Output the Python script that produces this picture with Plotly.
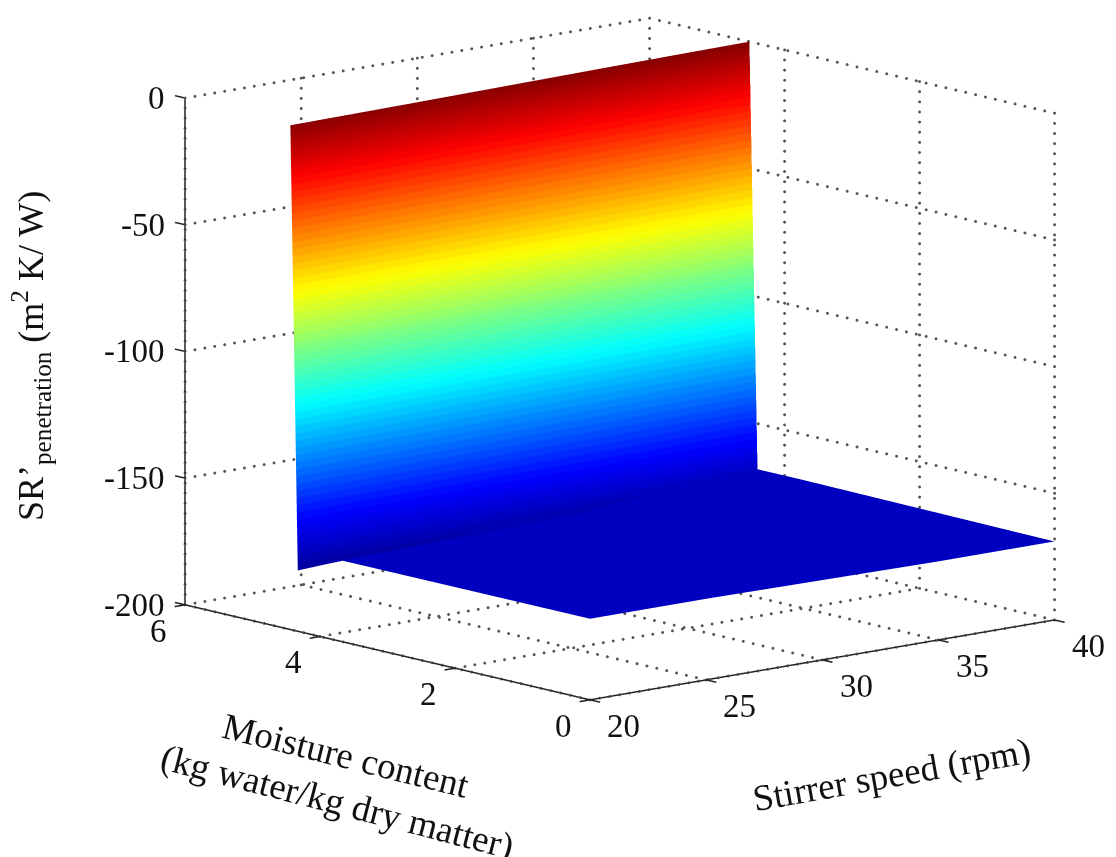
import plotly.graph_objects as go

stirrer_speed = [20, 25, 30, 35, 40]
moisture_rows = [
    [0, 0, 0, 0, 0],
    [3.7, 3.7, 3.7, 3.7, 3.75],
    [4.33, 4.35, 4.37, 4.38, 4.40],
    [4.44, 4.46, 4.48, 4.50, 4.52],
]
sr_rows = [
    [-168, -168, -168.5, -169, -169],
    [-168, -168, -168, -168, -168],
    [-176, -174, -172, -170, -168],
    [-1, -0.8, -0.5, -0.2, 0],
]
x_ticks = [20, 25, 30, 35, 40]
y_ticks = [0, 2, 4, 6]
z_ticks = [-200, -150, -100, -50, 0]
jet_stops = [(0, (0, 0, 143)), (0.125, (0, 0, 255)), (0.375, (0, 255, 255)),
             (0.625, (255, 255, 0)), (0.875, (255, 0, 0)), (1, (128, 0, 0))]

X0, X1, Y0, Y1, Z0, Z1 = 20, 40, 0, 6, -200, 0
DOT = "#555555"
INK = "#222222"
SERIF = "Liberation Serif"


def jet_colour(t):
    for (t0, c0), (t1, c1) in zip(jet_stops, jet_stops[1:]):
        if t <= t1:
            f = (t - t0) / (t1 - t0)
            return "rgb(%d,%d,%d)" % tuple(round(a + (b - a) * f) for a, b in zip(c0, c1))
    return "rgb(128,0,0)"


# stepped 64-level colormap, as the source's banding shows
LEVELS = 64
jet = []
for i in range(LEVELS):
    col = jet_colour((i + 0.5) / LEVELS)
    jet.append([i / LEVELS, col])
    jet.append([(i + 1) / LEVELS, col])

fig = go.Figure()


def seg(xs, ys, zs, color=INK, width=3):
    fig.add_trace(go.Scatter3d(x=xs, y=ys, z=zs, mode="lines", hoverinfo="skip",
                               showlegend=False,
                               line=dict(color=color, width=width)))


def dotted(a, b, n):
    """Dots along a grid line from corner a to corner b, about 10 px apart."""
    pts = [[a[k] + (b[k] - a[k]) * i / n for i in range(n + 1)] for k in range(3)]
    fig.add_trace(go.Scatter3d(x=pts[0], y=pts[1], z=pts[2], mode="markers",
                               hoverinfo="skip", showlegend=False,
                               marker=dict(size=1.7, color=DOT, line=dict(width=0))))


# dotted grid on floor and two back walls
for t in x_ticks:
    dotted((t, Y0, Z0), (t, Y1, Z0), 41)
    dotted((t, Y1, Z0), (t, Y1, Z1), 50)
for t in y_ticks:
    dotted((X0, t, Z0), (X1, t, Z0), 47)
    dotted((X1, t, Z0), (X1, t, Z1), 50)
for t in z_ticks:
    dotted((X0, Y1, t), (X1, Y1, t), 47)
    dotted((X1, Y0, t), (X1, Y1, t), 41)

# solid axes
seg([X0, X1], [Y0, Y0], [Z0, Z0])
seg([X0, X0], [Y0, Y1], [Z0, Z0])
seg([X0, X0], [Y1, Y1], [Z0, Z1])
for t in x_ticks:
    seg([t, t], [Y0, Y0 - 0.15], [Z0, Z0])
for t in y_ticks:
    seg([X0, X0 - 0.45], [t, t], [Z0, Z0])
for t in z_ticks:
    seg([X0, X0], [Y1, Y1 + 0.15], [t, t])

fig.add_trace(go.Surface(
    x=[stirrer_speed for _ in moisture_rows], y=moisture_rows, z=sr_rows,
    colorscale=jet, cmin=-178.5, cmax=1.5, showscale=False, hoverinfo="skip",
    lighting=dict(ambient=1, diffuse=0, specular=0, roughness=1, fresnel=0),
    contours=dict(x=dict(highlight=False), y=dict(highlight=False), z=dict(highlight=False)),
))

tick_font = dict(family=SERIF, size=33, color="#111111")
scene_notes = []
for t in x_ticks:
    scene_notes.append(dict(x=t, y=Y0, z=Z0, text=str(t), showarrow=False, font=tick_font,
                            xshift=34, yshift=-26))
for t in y_ticks:
    scene_notes.append(dict(x=X0, y=t, z=Z0, text=str(t), showarrow=False, font=tick_font,
                            xshift=-26, yshift=-26))
for t in z_ticks:
    scene_notes.append(dict(x=X0, y=Y1, z=t, text=str(t), showarrow=False, font=tick_font,
                            xanchor="right", xshift=-18, yshift=0))

axis = dict(visible=False)
title_font = dict(family=SERIF, size=37, color="#111111")
W, H = 1116, 857


def note(px, py, text, angle, size=37):
    return dict(xref="paper", yref="paper", x=px / W, y=1 - py / H, text=text,
                textangle=angle, showarrow=False, font=dict(title_font, size=size),
                xanchor="center", yanchor="middle")


fig.update_layout(
    width=W, height=H, margin=dict(l=0, r=0, t=0, b=0),
    paper_bgcolor="white", showlegend=False,
    scene=dict(
        domain=dict(x=[0.1, 1], y=[0.16, 1]),
        xaxis=dict(axis, range=[19.5, 40]),
        yaxis=dict(axis, range=[-0.2, 6.2]),
        zaxis=dict(axis, range=[-200, 0]),
        aspectmode="manual",
        aspectratio=dict(x=1.741, y=1.845, z=1.437),
        camera=dict(
            eye=dict(x=-0.6373 * 3, y=-0.7444 * 3, z=0.2009 * 3),
            up=dict(x=0, y=0, z=1),
            center=dict(x=0, y=0, z=0),
            projection=dict(type="orthographic"),
        ),
        annotations=scene_notes,
    ),
    annotations=[
        note(892, 775, "Stirrer speed (rpm)", -10),
        note(346, 755, "Moisture content", 14),
        note(337, 802, "(kg water/kg dry matter)", 14.5),
        note(31, 356, "SR’<sub>penetration</sub> (m<sup>2</sup> K/ W)", -90, 36),
    ],
)

fig.write_html("out.html", config=dict(displayModeBar=False),
               post_script="document.body.style.margin='0';document.documentElement.style.overflow='hidden';")
